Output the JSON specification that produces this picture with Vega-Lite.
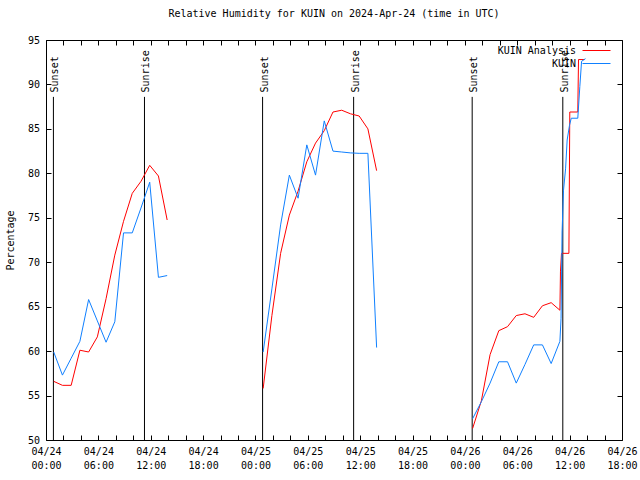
{
  "$schema": "https://vega.github.io/schema/vega-lite/v6.json",
  "width": 576,
  "height": 400,
  "autosize": {"type": "none"},
  "padding": {"left": 46, "top": 40, "right": 18, "bottom": 40},
  "background": "white",
  "config": {
    "font": "DejaVu Sans Mono",
    "view": {"stroke": "black", "strokeWidth": 1},
    "axis": {
      "grid": false,
      "labelFont": "DejaVu Sans Mono",
      "labelFontSize": 10,
      "labelColor": "black",
      "tickColor": "black",
      "domainColor": "black",
      "tickSize": -5,
      "titleFont": "DejaVu Sans Mono",
      "titleFontSize": 10,
      "titleFontWeight": "normal",
      "titleColor": "black"
    }
  },
  "title": {
    "text": "Relative Humidity for KUIN on 2024-Apr-24 (time in UTC)",
    "font": "DejaVu Sans Mono",
    "fontSize": 10,
    "fontWeight": "normal",
    "color": "black",
    "anchor": "middle",
    "offset": 16
  },
  "datasets": {
    "sun": [
      {"event": "Sunset", "time": "2024-04-24T00:51:00Z"},
      {"event": "Sunrise", "time": "2024-04-24T11:17:00Z"},
      {"event": "Sunset", "time": "2024-04-25T00:49:00Z"},
      {"event": "Sunrise", "time": "2024-04-25T11:15:00Z"},
      {"event": "Sunset", "time": "2024-04-26T00:50:00Z"},
      {"event": "Sunrise", "time": "2024-04-26T11:13:00Z"}
    ],
    "obs": [
      {"series": "KUIN Analysis", "day": 1, "time": "2024-04-24T00:53:00Z", "rh": 56.6},
      {"series": "KUIN Analysis", "day": 1, "time": "2024-04-24T01:53:00Z", "rh": 56.15},
      {"series": "KUIN Analysis", "day": 1, "time": "2024-04-24T02:53:00Z", "rh": 56.15},
      {"series": "KUIN Analysis", "day": 1, "time": "2024-04-24T03:53:00Z", "rh": 60.1},
      {"series": "KUIN Analysis", "day": 1, "time": "2024-04-24T04:53:00Z", "rh": 59.9},
      {"series": "KUIN Analysis", "day": 1, "time": "2024-04-24T05:53:00Z", "rh": 61.6},
      {"series": "KUIN Analysis", "day": 1, "time": "2024-04-24T06:53:00Z", "rh": 65.9},
      {"series": "KUIN Analysis", "day": 1, "time": "2024-04-24T07:53:00Z", "rh": 70.8},
      {"series": "KUIN Analysis", "day": 1, "time": "2024-04-24T08:53:00Z", "rh": 74.6},
      {"series": "KUIN Analysis", "day": 1, "time": "2024-04-24T09:53:00Z", "rh": 77.75},
      {"series": "KUIN Analysis", "day": 1, "time": "2024-04-24T10:53:00Z", "rh": 79.1},
      {"series": "KUIN Analysis", "day": 1, "time": "2024-04-24T11:53:00Z", "rh": 80.9},
      {"series": "KUIN Analysis", "day": 1, "time": "2024-04-24T12:53:00Z", "rh": 79.7},
      {"series": "KUIN Analysis", "day": 1, "time": "2024-04-24T13:53:00Z", "rh": 74.75},
      {"series": "KUIN Analysis", "day": 2, "time": "2024-04-25T00:53:00Z", "rh": 55.8},
      {"series": "KUIN Analysis", "day": 2, "time": "2024-04-25T01:53:00Z", "rh": 64.0},
      {"series": "KUIN Analysis", "day": 2, "time": "2024-04-25T02:53:00Z", "rh": 71.0},
      {"series": "KUIN Analysis", "day": 2, "time": "2024-04-25T03:53:00Z", "rh": 75.3},
      {"series": "KUIN Analysis", "day": 2, "time": "2024-04-25T04:53:00Z", "rh": 78.0},
      {"series": "KUIN Analysis", "day": 2, "time": "2024-04-25T05:53:00Z", "rh": 81.3},
      {"series": "KUIN Analysis", "day": 2, "time": "2024-04-25T06:53:00Z", "rh": 83.4},
      {"series": "KUIN Analysis", "day": 2, "time": "2024-04-25T07:53:00Z", "rh": 84.8},
      {"series": "KUIN Analysis", "day": 2, "time": "2024-04-25T08:53:00Z", "rh": 86.9},
      {"series": "KUIN Analysis", "day": 2, "time": "2024-04-25T09:53:00Z", "rh": 87.1},
      {"series": "KUIN Analysis", "day": 2, "time": "2024-04-25T10:53:00Z", "rh": 86.7},
      {"series": "KUIN Analysis", "day": 2, "time": "2024-04-25T11:53:00Z", "rh": 86.45},
      {"series": "KUIN Analysis", "day": 2, "time": "2024-04-25T12:53:00Z", "rh": 85.0},
      {"series": "KUIN Analysis", "day": 2, "time": "2024-04-25T13:53:00Z", "rh": 80.3},
      {"series": "KUIN Analysis", "day": 3, "time": "2024-04-26T00:53:00Z", "rh": 51.3},
      {"series": "KUIN Analysis", "day": 3, "time": "2024-04-26T01:53:00Z", "rh": 54.4},
      {"series": "KUIN Analysis", "day": 3, "time": "2024-04-26T02:53:00Z", "rh": 59.6},
      {"series": "KUIN Analysis", "day": 3, "time": "2024-04-26T03:53:00Z", "rh": 62.3},
      {"series": "KUIN Analysis", "day": 3, "time": "2024-04-26T04:53:00Z", "rh": 62.75},
      {"series": "KUIN Analysis", "day": 3, "time": "2024-04-26T05:53:00Z", "rh": 64.0},
      {"series": "KUIN Analysis", "day": 3, "time": "2024-04-26T06:53:00Z", "rh": 64.2},
      {"series": "KUIN Analysis", "day": 3, "time": "2024-04-26T07:53:00Z", "rh": 63.8},
      {"series": "KUIN Analysis", "day": 3, "time": "2024-04-26T08:53:00Z", "rh": 65.1},
      {"series": "KUIN Analysis", "day": 3, "time": "2024-04-26T09:53:00Z", "rh": 65.45},
      {"series": "KUIN Analysis", "day": 3, "time": "2024-04-26T10:53:00Z", "rh": 64.6},
      {"series": "KUIN Analysis", "day": 3, "time": "2024-04-26T10:57:00Z", "rh": 69.0},
      {"series": "KUIN Analysis", "day": 3, "time": "2024-04-26T11:04:00Z", "rh": 71.0},
      {"series": "KUIN Analysis", "day": 3, "time": "2024-04-26T11:55:00Z", "rh": 71.0},
      {"series": "KUIN Analysis", "day": 3, "time": "2024-04-26T12:01:00Z", "rh": 86.9},
      {"series": "KUIN Analysis", "day": 3, "time": "2024-04-26T12:56:00Z", "rh": 86.9},
      {"series": "KUIN Analysis", "day": 3, "time": "2024-04-26T13:01:00Z", "rh": 92.8},
      {"series": "KUIN Analysis", "day": 3, "time": "2024-04-26T13:43:00Z", "rh": 92.8},
      {"series": "KUIN", "day": 1, "time": "2024-04-24T00:53:00Z", "rh": 59.9},
      {"series": "KUIN", "day": 1, "time": "2024-04-24T01:53:00Z", "rh": 57.3},
      {"series": "KUIN", "day": 1, "time": "2024-04-24T02:53:00Z", "rh": 59.2},
      {"series": "KUIN", "day": 1, "time": "2024-04-24T03:53:00Z", "rh": 61.1},
      {"series": "KUIN", "day": 1, "time": "2024-04-24T04:53:00Z", "rh": 65.8},
      {"series": "KUIN", "day": 1, "time": "2024-04-24T05:53:00Z", "rh": 63.4},
      {"series": "KUIN", "day": 1, "time": "2024-04-24T06:53:00Z", "rh": 61.0},
      {"series": "KUIN", "day": 1, "time": "2024-04-24T07:53:00Z", "rh": 63.3},
      {"series": "KUIN", "day": 1, "time": "2024-04-24T08:53:00Z", "rh": 73.3},
      {"series": "KUIN", "day": 1, "time": "2024-04-24T09:53:00Z", "rh": 73.3},
      {"series": "KUIN", "day": 1, "time": "2024-04-24T10:53:00Z", "rh": 76.1},
      {"series": "KUIN", "day": 1, "time": "2024-04-24T11:53:00Z", "rh": 79.0},
      {"series": "KUIN", "day": 1, "time": "2024-04-24T12:53:00Z", "rh": 68.3},
      {"series": "KUIN", "day": 1, "time": "2024-04-24T13:53:00Z", "rh": 68.5},
      {"series": "KUIN", "day": 2, "time": "2024-04-25T00:53:00Z", "rh": 59.9},
      {"series": "KUIN", "day": 2, "time": "2024-04-25T01:53:00Z", "rh": 67.0},
      {"series": "KUIN", "day": 2, "time": "2024-04-25T02:53:00Z", "rh": 74.2},
      {"series": "KUIN", "day": 2, "time": "2024-04-25T03:53:00Z", "rh": 79.8},
      {"series": "KUIN", "day": 2, "time": "2024-04-25T04:53:00Z", "rh": 77.2},
      {"series": "KUIN", "day": 2, "time": "2024-04-25T05:53:00Z", "rh": 83.2},
      {"series": "KUIN", "day": 2, "time": "2024-04-25T06:53:00Z", "rh": 79.8},
      {"series": "KUIN", "day": 2, "time": "2024-04-25T07:53:00Z", "rh": 85.9},
      {"series": "KUIN", "day": 2, "time": "2024-04-25T08:53:00Z", "rh": 82.5},
      {"series": "KUIN", "day": 2, "time": "2024-04-25T09:53:00Z", "rh": 82.4},
      {"series": "KUIN", "day": 2, "time": "2024-04-25T10:53:00Z", "rh": 82.3},
      {"series": "KUIN", "day": 2, "time": "2024-04-25T11:53:00Z", "rh": 82.25},
      {"series": "KUIN", "day": 2, "time": "2024-04-25T12:53:00Z", "rh": 82.25},
      {"series": "KUIN", "day": 2, "time": "2024-04-25T13:53:00Z", "rh": 60.4},
      {"series": "KUIN", "day": 3, "time": "2024-04-26T00:53:00Z", "rh": 52.4},
      {"series": "KUIN", "day": 3, "time": "2024-04-26T01:53:00Z", "rh": 54.3},
      {"series": "KUIN", "day": 3, "time": "2024-04-26T02:53:00Z", "rh": 56.4},
      {"series": "KUIN", "day": 3, "time": "2024-04-26T03:53:00Z", "rh": 58.8},
      {"series": "KUIN", "day": 3, "time": "2024-04-26T04:53:00Z", "rh": 58.8},
      {"series": "KUIN", "day": 3, "time": "2024-04-26T05:53:00Z", "rh": 56.4},
      {"series": "KUIN", "day": 3, "time": "2024-04-26T06:53:00Z", "rh": 58.5},
      {"series": "KUIN", "day": 3, "time": "2024-04-26T07:53:00Z", "rh": 60.7},
      {"series": "KUIN", "day": 3, "time": "2024-04-26T08:53:00Z", "rh": 60.7},
      {"series": "KUIN", "day": 3, "time": "2024-04-26T09:53:00Z", "rh": 58.6},
      {"series": "KUIN", "day": 3, "time": "2024-04-26T10:53:00Z", "rh": 61.1},
      {"series": "KUIN", "day": 3, "time": "2024-04-26T11:01:00Z", "rh": 63.7},
      {"series": "KUIN", "day": 3, "time": "2024-04-26T11:08:00Z", "rh": 73.4},
      {"series": "KUIN", "day": 3, "time": "2024-04-26T11:18:00Z", "rh": 78.1},
      {"series": "KUIN", "day": 3, "time": "2024-04-26T11:32:00Z", "rh": 80.5},
      {"series": "KUIN", "day": 3, "time": "2024-04-26T11:43:00Z", "rh": 83.75},
      {"series": "KUIN", "day": 3, "time": "2024-04-26T11:59:00Z", "rh": 85.4},
      {"series": "KUIN", "day": 3, "time": "2024-04-26T12:11:00Z", "rh": 86.2},
      {"series": "KUIN", "day": 3, "time": "2024-04-26T12:56:00Z", "rh": 86.2},
      {"series": "KUIN", "day": 3, "time": "2024-04-26T13:10:00Z", "rh": 89.75},
      {"series": "KUIN", "day": 3, "time": "2024-04-26T13:22:00Z", "rh": 92.6},
      {"series": "KUIN", "day": 3, "time": "2024-04-26T13:49:00Z", "rh": 92.9}
    ]
  },
  "layer": [
    {
      "data": {"name": "sun"},
      "mark": {"type": "rule", "color": "black", "strokeWidth": 1},
      "encoding": {
        "x": {
          "field": "time", "type": "temporal",
          "scale": {"type": "utc", "domain": [1713916800000, 1714154400000]},
          "axis": {
            "orient": "top", "title": null, "labels": false, "domain": false,
            "values": [1713916800000,1713924000000,1713931200000,1713938400000,1713945600000,1713952800000,1713960000000,1713967200000,1713974400000,1713981600000,1713988800000,1713996000000,1714003200000,1714010400000,1714017600000,1714024800000,1714032000000,1714039200000,1714046400000,1714053600000,1714060800000,1714068000000,1714075200000,1714082400000,1714089600000,1714096800000,1714104000000,1714111200000,1714118400000,1714125600000,1714132800000,1714140000000,1714147200000,1714154400000]
          }
        },
        "y": {
          "datum": 88.6, "type": "quantitative",
          "scale": {"domain": [50, 95], "nice": false, "zero": false},
          "axis": {"orient": "right", "title": null, "labels": false, "domain": false, "values": [50,55,60,65,70,75,80,85,90,95]}
        },
        "y2": {"datum": 50}
      }
    },
    {
      "data": {"name": "sun"},
      "mark": {"type": "text", "angle": 270, "align": "left", "baseline": "middle", "dy": 2, "font": "DejaVu Sans Mono", "fontSize": 10, "color": "black"},
      "encoding": {
        "x": {"field": "time", "type": "temporal", "scale": {"type": "utc", "domain": [1713916800000, 1714154400000]}, "axis": null},
        "y": {"datum": 89.1, "type": "quantitative", "axis": null},
        "text": {"field": "event"}
      }
    },
    {
      "data": {"name": "obs"},
      "mark": {"type": "line", "strokeWidth": 1, "interpolate": "linear"},
      "encoding": {
        "x": {
          "field": "time", "type": "temporal",
          "scale": {"type": "utc", "domain": [1713916800000, 1714154400000]},
          "axis": {
            "orient": "bottom", "title": null, "domain": false,
            "values": [1713916800000,1713924000000,1713931200000,1713938400000,1713945600000,1713952800000,1713960000000,1713967200000,1713974400000,1713981600000,1713988800000,1713996000000,1714003200000,1714010400000,1714017600000,1714024800000,1714032000000,1714039200000,1714046400000,1714053600000,1714060800000,1714068000000,1714075200000,1714082400000,1714089600000,1714096800000,1714104000000,1714111200000,1714118400000,1714125600000,1714132800000,1714140000000,1714147200000,1714154400000],
            "labelExpr": "utchours(datum.value) % 6 == 0 ? [utcFormat(datum.value, '%m/%d'), utcFormat(datum.value, '%H:%M')] : ''",
            "labelOverlap": false,
            "labelFlush": false,
            "labelBaseline": "top",
            "labelPadding": 11,
            "labelLineHeight": 14
          }
        },
        "y": {
          "field": "rh", "type": "quantitative",
          "scale": {"domain": [50, 95], "nice": false, "zero": false},
          "axis": {"orient": "left", "title": "Percentage", "domain": false, "values": [50,55,60,65,70,75,80,85,90,95], "labelPadding": 11.5, "titlePadding": 12}
        },
        "color": {
          "field": "series", "type": "nominal",
          "scale": {"domain": ["KUIN Analysis", "KUIN"], "range": ["#ff0000", "#0f80ff"]},
          "legend": {
            "orient": "none", "legendX": 543, "legendY": 3, "title": null,
            "symbolType": "M-2,0H2", "symbolSize": 196, "symbolStrokeWidth": 1, "symbolFillColor": "transparent",
            "labelAlign": "right", "labelOffset": -28, "labelFont": "DejaVu Sans Mono", "labelFontSize": 10, "labelColor": "black",
            "padding": 0, "rowPadding": -2, "labelLimit": 0
          }
        },
        "detail": {"field": "day", "type": "nominal"}
      }
    }
  ],
  "resolve": {"axis": {"x": "independent", "y": "independent"}}
}
